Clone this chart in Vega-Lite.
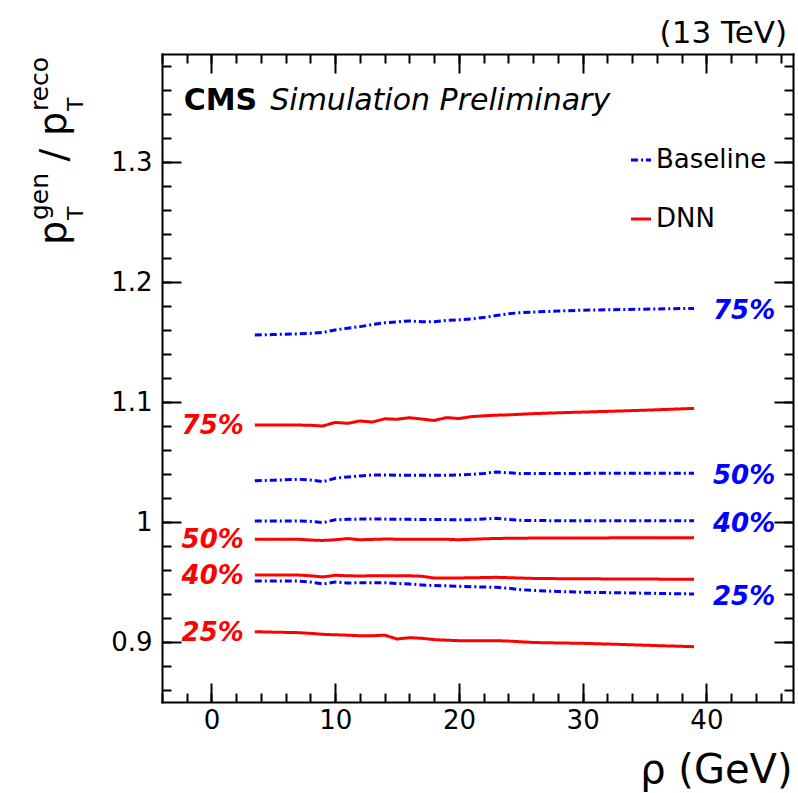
{
  "$schema": "https://vega.github.io/schema/vega-lite/v6.json",
  "width": 631,
  "height": 648,
  "autosize": {"type": "none"},
  "padding": {"left": 162, "top": 54, "right": 5, "bottom": 91},
  "background": "white",
  "config": {
    "view": {"stroke": null},
    "font": "DejaVu Sans",
    "axis": {
      "grid": false,
      "domainColor": "#000000",
      "domainWidth": 2,
      "domainCap": "square",
      "tickColor": "#000000",
      "tickWidth": 2,
      "labelFont": "DejaVu Sans",
      "labelFontSize": 26,
      "labelColor": "#000000",
      "labelFlush": false,
      "titleFont": "DejaVu Sans",
      "titleColor": "#000000",
      "titleFontWeight": "normal"
    }
  },
  "datasets": {
    "curves": [
      {"method": "Baseline", "q": "75%", "rho": 3.5, "ratio": 1.1558},
      {"method": "Baseline", "q": "75%", "rho": 5, "ratio": 1.1562},
      {"method": "Baseline", "q": "75%", "rho": 7, "ratio": 1.1568},
      {"method": "Baseline", "q": "75%", "rho": 8, "ratio": 1.1572},
      {"method": "Baseline", "q": "75%", "rho": 9, "ratio": 1.158},
      {"method": "Baseline", "q": "75%", "rho": 10, "ratio": 1.16},
      {"method": "Baseline", "q": "75%", "rho": 11, "ratio": 1.1615},
      {"method": "Baseline", "q": "75%", "rho": 12, "ratio": 1.1628},
      {"method": "Baseline", "q": "75%", "rho": 13, "ratio": 1.1645},
      {"method": "Baseline", "q": "75%", "rho": 14, "ratio": 1.166},
      {"method": "Baseline", "q": "75%", "rho": 15, "ratio": 1.1668},
      {"method": "Baseline", "q": "75%", "rho": 16, "ratio": 1.1676},
      {"method": "Baseline", "q": "75%", "rho": 17, "ratio": 1.1668},
      {"method": "Baseline", "q": "75%", "rho": 18, "ratio": 1.1668},
      {"method": "Baseline", "q": "75%", "rho": 19, "ratio": 1.168},
      {"method": "Baseline", "q": "75%", "rho": 20, "ratio": 1.1685},
      {"method": "Baseline", "q": "75%", "rho": 21, "ratio": 1.1692},
      {"method": "Baseline", "q": "75%", "rho": 22, "ratio": 1.1705},
      {"method": "Baseline", "q": "75%", "rho": 23, "ratio": 1.172},
      {"method": "Baseline", "q": "75%", "rho": 24, "ratio": 1.1735},
      {"method": "Baseline", "q": "75%", "rho": 25, "ratio": 1.1745},
      {"method": "Baseline", "q": "75%", "rho": 26, "ratio": 1.175},
      {"method": "Baseline", "q": "75%", "rho": 28, "ratio": 1.1758},
      {"method": "Baseline", "q": "75%", "rho": 30, "ratio": 1.1765},
      {"method": "Baseline", "q": "75%", "rho": 33, "ratio": 1.177},
      {"method": "Baseline", "q": "75%", "rho": 36, "ratio": 1.1775},
      {"method": "Baseline", "q": "75%", "rho": 39, "ratio": 1.178},

      {"method": "DNN", "q": "75%", "rho": 3.5, "ratio": 1.0808},
      {"method": "DNN", "q": "75%", "rho": 5, "ratio": 1.0808},
      {"method": "DNN", "q": "75%", "rho": 7, "ratio": 1.0808},
      {"method": "DNN", "q": "75%", "rho": 8, "ratio": 1.0806},
      {"method": "DNN", "q": "75%", "rho": 9, "ratio": 1.08},
      {"method": "DNN", "q": "75%", "rho": 10, "ratio": 1.083},
      {"method": "DNN", "q": "75%", "rho": 11, "ratio": 1.0822},
      {"method": "DNN", "q": "75%", "rho": 12, "ratio": 1.0842},
      {"method": "DNN", "q": "75%", "rho": 13, "ratio": 1.0833},
      {"method": "DNN", "q": "75%", "rho": 14, "ratio": 1.086},
      {"method": "DNN", "q": "75%", "rho": 15, "ratio": 1.0856},
      {"method": "DNN", "q": "75%", "rho": 16, "ratio": 1.0869},
      {"method": "DNN", "q": "75%", "rho": 17, "ratio": 1.0858},
      {"method": "DNN", "q": "75%", "rho": 18, "ratio": 1.0846},
      {"method": "DNN", "q": "75%", "rho": 19, "ratio": 1.087},
      {"method": "DNN", "q": "75%", "rho": 20, "ratio": 1.0862},
      {"method": "DNN", "q": "75%", "rho": 21, "ratio": 1.0878},
      {"method": "DNN", "q": "75%", "rho": 22, "ratio": 1.0885},
      {"method": "DNN", "q": "75%", "rho": 23, "ratio": 1.089},
      {"method": "DNN", "q": "75%", "rho": 24, "ratio": 1.0893},
      {"method": "DNN", "q": "75%", "rho": 25, "ratio": 1.0898},
      {"method": "DNN", "q": "75%", "rho": 26, "ratio": 1.0903},
      {"method": "DNN", "q": "75%", "rho": 28, "ratio": 1.091},
      {"method": "DNN", "q": "75%", "rho": 30, "ratio": 1.0916},
      {"method": "DNN", "q": "75%", "rho": 33, "ratio": 1.0925},
      {"method": "DNN", "q": "75%", "rho": 36, "ratio": 1.0935},
      {"method": "DNN", "q": "75%", "rho": 39, "ratio": 1.0947},

      {"method": "Baseline", "q": "50%", "rho": 3.5, "ratio": 1.0344},
      {"method": "Baseline", "q": "50%", "rho": 5, "ratio": 1.0348},
      {"method": "Baseline", "q": "50%", "rho": 7, "ratio": 1.0356},
      {"method": "Baseline", "q": "50%", "rho": 8, "ratio": 1.035},
      {"method": "Baseline", "q": "50%", "rho": 9, "ratio": 1.0336},
      {"method": "Baseline", "q": "50%", "rho": 10, "ratio": 1.0365},
      {"method": "Baseline", "q": "50%", "rho": 11, "ratio": 1.0375},
      {"method": "Baseline", "q": "50%", "rho": 12, "ratio": 1.0383},
      {"method": "Baseline", "q": "50%", "rho": 13, "ratio": 1.0392},
      {"method": "Baseline", "q": "50%", "rho": 14, "ratio": 1.0392},
      {"method": "Baseline", "q": "50%", "rho": 15, "ratio": 1.039},
      {"method": "Baseline", "q": "50%", "rho": 16, "ratio": 1.0389},
      {"method": "Baseline", "q": "50%", "rho": 17, "ratio": 1.039},
      {"method": "Baseline", "q": "50%", "rho": 18, "ratio": 1.0389},
      {"method": "Baseline", "q": "50%", "rho": 19, "ratio": 1.0389},
      {"method": "Baseline", "q": "50%", "rho": 20, "ratio": 1.0392},
      {"method": "Baseline", "q": "50%", "rho": 21, "ratio": 1.0397},
      {"method": "Baseline", "q": "50%", "rho": 22, "ratio": 1.0405},
      {"method": "Baseline", "q": "50%", "rho": 23, "ratio": 1.0417},
      {"method": "Baseline", "q": "50%", "rho": 24, "ratio": 1.041},
      {"method": "Baseline", "q": "50%", "rho": 25, "ratio": 1.0403},
      {"method": "Baseline", "q": "50%", "rho": 26, "ratio": 1.0404},
      {"method": "Baseline", "q": "50%", "rho": 28, "ratio": 1.0405},
      {"method": "Baseline", "q": "50%", "rho": 30, "ratio": 1.0405},
      {"method": "Baseline", "q": "50%", "rho": 33, "ratio": 1.0406},
      {"method": "Baseline", "q": "50%", "rho": 36, "ratio": 1.0406},
      {"method": "Baseline", "q": "50%", "rho": 39, "ratio": 1.0406},

      {"method": "Baseline", "q": "40%", "rho": 3.5, "ratio": 1.0008},
      {"method": "Baseline", "q": "40%", "rho": 5, "ratio": 1.0008},
      {"method": "Baseline", "q": "40%", "rho": 7, "ratio": 1.0008},
      {"method": "Baseline", "q": "40%", "rho": 8, "ratio": 1.0005},
      {"method": "Baseline", "q": "40%", "rho": 9, "ratio": 0.9994},
      {"method": "Baseline", "q": "40%", "rho": 10, "ratio": 1.0018},
      {"method": "Baseline", "q": "40%", "rho": 11, "ratio": 1.0022},
      {"method": "Baseline", "q": "40%", "rho": 12, "ratio": 1.0024},
      {"method": "Baseline", "q": "40%", "rho": 13, "ratio": 1.0025},
      {"method": "Baseline", "q": "40%", "rho": 14, "ratio": 1.0024},
      {"method": "Baseline", "q": "40%", "rho": 15, "ratio": 1.0023},
      {"method": "Baseline", "q": "40%", "rho": 16, "ratio": 1.0022},
      {"method": "Baseline", "q": "40%", "rho": 17, "ratio": 1.0021},
      {"method": "Baseline", "q": "40%", "rho": 18, "ratio": 1.002},
      {"method": "Baseline", "q": "40%", "rho": 19, "ratio": 1.002},
      {"method": "Baseline", "q": "40%", "rho": 20, "ratio": 1.0019},
      {"method": "Baseline", "q": "40%", "rho": 21, "ratio": 1.0019},
      {"method": "Baseline", "q": "40%", "rho": 22, "ratio": 1.0025},
      {"method": "Baseline", "q": "40%", "rho": 23, "ratio": 1.0031},
      {"method": "Baseline", "q": "40%", "rho": 24, "ratio": 1.0022},
      {"method": "Baseline", "q": "40%", "rho": 25, "ratio": 1.0014},
      {"method": "Baseline", "q": "40%", "rho": 26, "ratio": 1.0012},
      {"method": "Baseline", "q": "40%", "rho": 28, "ratio": 1.0011},
      {"method": "Baseline", "q": "40%", "rho": 30, "ratio": 1.0011},
      {"method": "Baseline", "q": "40%", "rho": 33, "ratio": 1.0011},
      {"method": "Baseline", "q": "40%", "rho": 36, "ratio": 1.0011},
      {"method": "Baseline", "q": "40%", "rho": 39, "ratio": 1.0011},

      {"method": "DNN", "q": "50%", "rho": 3.5, "ratio": 0.9856},
      {"method": "DNN", "q": "50%", "rho": 5, "ratio": 0.9856},
      {"method": "DNN", "q": "50%", "rho": 7, "ratio": 0.9856},
      {"method": "DNN", "q": "50%", "rho": 8, "ratio": 0.985},
      {"method": "DNN", "q": "50%", "rho": 9, "ratio": 0.9846},
      {"method": "DNN", "q": "50%", "rho": 10, "ratio": 0.9852},
      {"method": "DNN", "q": "50%", "rho": 11, "ratio": 0.9862},
      {"method": "DNN", "q": "50%", "rho": 12, "ratio": 0.9852},
      {"method": "DNN", "q": "50%", "rho": 13, "ratio": 0.9855},
      {"method": "DNN", "q": "50%", "rho": 14, "ratio": 0.9858},
      {"method": "DNN", "q": "50%", "rho": 15, "ratio": 0.9857},
      {"method": "DNN", "q": "50%", "rho": 16, "ratio": 0.9857},
      {"method": "DNN", "q": "50%", "rho": 17, "ratio": 0.9857},
      {"method": "DNN", "q": "50%", "rho": 18, "ratio": 0.9856},
      {"method": "DNN", "q": "50%", "rho": 19, "ratio": 0.9856},
      {"method": "DNN", "q": "50%", "rho": 20, "ratio": 0.9852},
      {"method": "DNN", "q": "50%", "rho": 21, "ratio": 0.9856},
      {"method": "DNN", "q": "50%", "rho": 22, "ratio": 0.986},
      {"method": "DNN", "q": "50%", "rho": 23, "ratio": 0.9863},
      {"method": "DNN", "q": "50%", "rho": 24, "ratio": 0.9864},
      {"method": "DNN", "q": "50%", "rho": 25, "ratio": 0.9865},
      {"method": "DNN", "q": "50%", "rho": 26, "ratio": 0.9866},
      {"method": "DNN", "q": "50%", "rho": 28, "ratio": 0.9867},
      {"method": "DNN", "q": "50%", "rho": 30, "ratio": 0.9867},
      {"method": "DNN", "q": "50%", "rho": 33, "ratio": 0.9868},
      {"method": "DNN", "q": "50%", "rho": 36, "ratio": 0.9868},
      {"method": "DNN", "q": "50%", "rho": 39, "ratio": 0.9869},

      {"method": "DNN", "q": "40%", "rho": 3.5, "ratio": 0.9558},
      {"method": "DNN", "q": "40%", "rho": 5, "ratio": 0.9558},
      {"method": "DNN", "q": "40%", "rho": 7, "ratio": 0.9558},
      {"method": "DNN", "q": "40%", "rho": 8, "ratio": 0.9552},
      {"method": "DNN", "q": "40%", "rho": 9, "ratio": 0.9542},
      {"method": "DNN", "q": "40%", "rho": 10, "ratio": 0.9556},
      {"method": "DNN", "q": "40%", "rho": 11, "ratio": 0.9552},
      {"method": "DNN", "q": "40%", "rho": 12, "ratio": 0.955},
      {"method": "DNN", "q": "40%", "rho": 13, "ratio": 0.9552},
      {"method": "DNN", "q": "40%", "rho": 14, "ratio": 0.9552},
      {"method": "DNN", "q": "40%", "rho": 15, "ratio": 0.9551},
      {"method": "DNN", "q": "40%", "rho": 16, "ratio": 0.9552},
      {"method": "DNN", "q": "40%", "rho": 17, "ratio": 0.9548},
      {"method": "DNN", "q": "40%", "rho": 18, "ratio": 0.9533},
      {"method": "DNN", "q": "40%", "rho": 19, "ratio": 0.9533},
      {"method": "DNN", "q": "40%", "rho": 20, "ratio": 0.9534},
      {"method": "DNN", "q": "40%", "rho": 21, "ratio": 0.9535},
      {"method": "DNN", "q": "40%", "rho": 22, "ratio": 0.9537},
      {"method": "DNN", "q": "40%", "rho": 23, "ratio": 0.9539},
      {"method": "DNN", "q": "40%", "rho": 24, "ratio": 0.9536},
      {"method": "DNN", "q": "40%", "rho": 25, "ratio": 0.9533},
      {"method": "DNN", "q": "40%", "rho": 26, "ratio": 0.953},
      {"method": "DNN", "q": "40%", "rho": 28, "ratio": 0.9528},
      {"method": "DNN", "q": "40%", "rho": 30, "ratio": 0.9527},
      {"method": "DNN", "q": "40%", "rho": 33, "ratio": 0.9525},
      {"method": "DNN", "q": "40%", "rho": 36, "ratio": 0.9524},
      {"method": "DNN", "q": "40%", "rho": 39, "ratio": 0.9523},

      {"method": "Baseline", "q": "25%", "rho": 3.5, "ratio": 0.9508},
      {"method": "Baseline", "q": "25%", "rho": 5, "ratio": 0.9508},
      {"method": "Baseline", "q": "25%", "rho": 7, "ratio": 0.9508},
      {"method": "Baseline", "q": "25%", "rho": 8, "ratio": 0.95},
      {"method": "Baseline", "q": "25%", "rho": 9, "ratio": 0.9483},
      {"method": "Baseline", "q": "25%", "rho": 10, "ratio": 0.95},
      {"method": "Baseline", "q": "25%", "rho": 11, "ratio": 0.9492},
      {"method": "Baseline", "q": "25%", "rho": 12, "ratio": 0.9494},
      {"method": "Baseline", "q": "25%", "rho": 13, "ratio": 0.9493},
      {"method": "Baseline", "q": "25%", "rho": 14, "ratio": 0.9494},
      {"method": "Baseline", "q": "25%", "rho": 15, "ratio": 0.9488},
      {"method": "Baseline", "q": "25%", "rho": 16, "ratio": 0.9483},
      {"method": "Baseline", "q": "25%", "rho": 17, "ratio": 0.9476},
      {"method": "Baseline", "q": "25%", "rho": 18, "ratio": 0.947},
      {"method": "Baseline", "q": "25%", "rho": 19, "ratio": 0.9468},
      {"method": "Baseline", "q": "25%", "rho": 20, "ratio": 0.9464},
      {"method": "Baseline", "q": "25%", "rho": 21, "ratio": 0.9461},
      {"method": "Baseline", "q": "25%", "rho": 22, "ratio": 0.9458},
      {"method": "Baseline", "q": "25%", "rho": 23, "ratio": 0.9456},
      {"method": "Baseline", "q": "25%", "rho": 24, "ratio": 0.9448},
      {"method": "Baseline", "q": "25%", "rho": 25, "ratio": 0.9436},
      {"method": "Baseline", "q": "25%", "rho": 26, "ratio": 0.943},
      {"method": "Baseline", "q": "25%", "rho": 28, "ratio": 0.9421},
      {"method": "Baseline", "q": "25%", "rho": 30, "ratio": 0.9415},
      {"method": "Baseline", "q": "25%", "rho": 33, "ratio": 0.941},
      {"method": "Baseline", "q": "25%", "rho": 36, "ratio": 0.9405},
      {"method": "Baseline", "q": "25%", "rho": 39, "ratio": 0.94},

      {"method": "DNN", "q": "25%", "rho": 3.5, "ratio": 0.9086},
      {"method": "DNN", "q": "25%", "rho": 5, "ratio": 0.9082},
      {"method": "DNN", "q": "25%", "rho": 7, "ratio": 0.9078},
      {"method": "DNN", "q": "25%", "rho": 8, "ratio": 0.9072},
      {"method": "DNN", "q": "25%", "rho": 9, "ratio": 0.9064},
      {"method": "DNN", "q": "25%", "rho": 10, "ratio": 0.906},
      {"method": "DNN", "q": "25%", "rho": 11, "ratio": 0.9057},
      {"method": "DNN", "q": "25%", "rho": 12, "ratio": 0.9052},
      {"method": "DNN", "q": "25%", "rho": 13, "ratio": 0.9052},
      {"method": "DNN", "q": "25%", "rho": 14, "ratio": 0.9057},
      {"method": "DNN", "q": "25%", "rho": 15, "ratio": 0.9025},
      {"method": "DNN", "q": "25%", "rho": 16, "ratio": 0.9036},
      {"method": "DNN", "q": "25%", "rho": 17, "ratio": 0.9031},
      {"method": "DNN", "q": "25%", "rho": 18, "ratio": 0.902},
      {"method": "DNN", "q": "25%", "rho": 19, "ratio": 0.9015},
      {"method": "DNN", "q": "25%", "rho": 20, "ratio": 0.9011},
      {"method": "DNN", "q": "25%", "rho": 21, "ratio": 0.9011},
      {"method": "DNN", "q": "25%", "rho": 22, "ratio": 0.9011},
      {"method": "DNN", "q": "25%", "rho": 23, "ratio": 0.9011},
      {"method": "DNN", "q": "25%", "rho": 24, "ratio": 0.9008},
      {"method": "DNN", "q": "25%", "rho": 25, "ratio": 0.9002},
      {"method": "DNN", "q": "25%", "rho": 26, "ratio": 0.8996},
      {"method": "DNN", "q": "25%", "rho": 28, "ratio": 0.8992},
      {"method": "DNN", "q": "25%", "rho": 30, "ratio": 0.8989},
      {"method": "DNN", "q": "25%", "rho": 33, "ratio": 0.898},
      {"method": "DNN", "q": "25%", "rho": 36, "ratio": 0.897},
      {"method": "DNN", "q": "25%", "rho": 39, "ratio": 0.8961}
    ]
  },
  "layer": [
    {
      "data": {"name": "curves"},
      "mark": {"type": "line", "strokeWidth": 3, "interpolate": "linear"},
      "encoding": {
        "x": {
          "field": "rho", "type": "quantitative",
          "scale": {"domain": [-4, 47], "nice": false, "zero": false},
          "axis": {
            "orient": "bottom", "values": [0, 10, 20, 30, 40], "format": "d",
            "tickSize": -19, "labelPadding": 24,
            "title": "ρ (GeV)", "titleFontSize": 40, "titleAlign": "right",
            "titleBaseline": "alphabetic", "titleX": 630, "titleY": 80
          }
        },
        "y": {
          "field": "ratio", "type": "quantitative",
          "scale": {"domain": [0.85, 1.39], "nice": false, "zero": false},
          "axis": {
            "orient": "left", "values": [0.9, 1, 1.1, 1.2, 1.3], "format": "~g",
            "tickSize": -19, "labelPadding": 29, "title": null
          }
        },
        "color": {
          "field": "method", "type": "nominal",
          "scale": {"domain": ["Baseline", "DNN"], "range": ["#0000ff", "#ff0000"]},
          "legend": {
            "title": null, "orient": "none", "legendX": 466, "legendY": 93,
            "symbolType": "stroke", "symbolSize": 400, "symbolStrokeWidth": 3,
            "labelFont": "DejaVu Sans", "labelFontSize": 26, "labelColor": "#000000",
            "rowPadding": 33, "padding": 0, "labelOffset": 2, "symbolOffset": 0
          }
        },
        "strokeDash": {
          "field": "method", "type": "nominal",
          "scale": {"domain": ["Baseline", "DNN"], "range": [[7, 3, 2, 3], [1, 0]]},
          "legend": {
            "title": null, "orient": "none", "legendX": 466, "legendY": 93,
            "symbolType": "stroke", "symbolSize": 400, "symbolStrokeWidth": 3,
            "labelFont": "DejaVu Sans", "labelFontSize": 26, "labelColor": "#000000",
            "rowPadding": 33, "padding": 0, "labelOffset": 2, "symbolOffset": 0
          }
        },
        "detail": {"field": "q", "type": "nominal"}
      }
    },
    {
      "data": {"name": "curves"},
      "transform": [{"filter": "datum.method === 'DNN' && datum.rho === 3.5"}],
      "mark": {
        "type": "text", "align": "right", "baseline": "middle", "dx": -11, "dy": 1,
        "font": "DejaVu Sans", "fontSize": 26, "fontStyle": "italic", "fontWeight": "bold",
        "color": "#ff0000"
      },
      "encoding": {
        "x": {
          "field": "rho", "type": "quantitative",
          "scale": {"domain": [-4, 47], "nice": false, "zero": false},
          "axis": {
            "orient": "bottom", "values": [-4, -2, 0, 2, 4, 6, 8, 10, 12, 14, 16, 18, 20, 22, 24, 26, 28, 30, 32, 34, 36, 38, 40, 42, 44, 46],
            "tickSize": -9, "labels": false, "domain": false, "title": null
          }
        },
        "y": {
          "field": "ratio", "type": "quantitative",
          "scale": {"domain": [0.85, 1.39], "nice": false, "zero": false},
          "axis": {
            "orient": "left", "values": [0.86, 0.88, 0.9, 0.92, 0.94, 0.96, 0.98, 1, 1.02, 1.04, 1.06, 1.08, 1.1, 1.12, 1.14, 1.16, 1.18, 1.2, 1.22, 1.24, 1.26, 1.28, 1.3, 1.32, 1.34, 1.36, 1.38],
            "tickSize": -9, "labels": false, "domain": false, "title": null
          }
        },
        "text": {"field": "q", "type": "nominal"}
      }
    },
    {
      "data": {"name": "curves"},
      "transform": [{"filter": "datum.method === 'Baseline' && datum.rho === 39"}],
      "mark": {
        "type": "text", "align": "left", "baseline": "middle", "dx": 19, "dy": 3,
        "font": "DejaVu Sans", "fontSize": 26, "fontStyle": "italic", "fontWeight": "bold",
        "color": "#0000ff"
      },
      "encoding": {
        "x": {
          "field": "rho", "type": "quantitative",
          "scale": {"domain": [-4, 47], "nice": false, "zero": false},
          "axis": {
            "orient": "top", "values": [0, 10, 20, 30, 40],
            "tickSize": -19, "labels": false, "title": null
          }
        },
        "y": {
          "field": "ratio", "type": "quantitative",
          "scale": {"domain": [0.85, 1.39], "nice": false, "zero": false},
          "axis": {
            "orient": "right", "values": [0.9, 1, 1.1, 1.2, 1.3],
            "tickSize": -19, "labels": false, "title": null
          }
        },
        "text": {"field": "q", "type": "nominal"}
      }
    },
    {
      "data": {"values": [{}]},
      "mark": {
        "type": "text", "text": "CMS", "align": "left", "baseline": "alphabetic",
        "font": "DejaVu Sans", "fontSize": 30, "fontWeight": "bold", "color": "#000000"
      },
      "encoding": {
        "x": {
          "datum": -2.25, "type": "quantitative",
          "scale": {"domain": [-4, 47], "nice": false, "zero": false},
          "axis": {
            "orient": "top", "values": [-4, -2, 0, 2, 4, 6, 8, 10, 12, 14, 16, 18, 20, 22, 24, 26, 28, 30, 32, 34, 36, 38, 40, 42, 44, 46],
            "tickSize": -9, "labels": false, "domain": false, "title": null
          }
        },
        "y": {
          "datum": 1.3433, "type": "quantitative",
          "scale": {"domain": [0.85, 1.39], "nice": false, "zero": false},
          "axis": {
            "orient": "right", "values": [0.86, 0.88, 0.9, 0.92, 0.94, 0.96, 0.98, 1, 1.02, 1.04, 1.06, 1.08, 1.1, 1.12, 1.14, 1.16, 1.18, 1.2, 1.22, 1.24, 1.26, 1.28, 1.3, 1.32, 1.34, 1.36, 1.38],
            "tickSize": -9, "labels": false, "domain": false, "title": null
          }
        }
      }
    },
    {
      "data": {"values": [{}]},
      "mark": {
        "type": "text", "text": "Simulation Preliminary", "align": "left", "baseline": "alphabetic",
        "font": "DejaVu Sans", "fontSize": 30, "fontStyle": "italic", "color": "#000000"
      },
      "encoding": {
        "x": {"datum": 4.75, "type": "quantitative", "scale": {"domain": [-4, 47], "nice": false, "zero": false}, "axis": null},
        "y": {"datum": 1.3433, "type": "quantitative", "scale": {"domain": [0.85, 1.39], "nice": false, "zero": false}, "axis": null}
      }
    },
    {
      "data": {"values": [{}]},
      "mark": {
        "type": "text", "text": "(13 TeV)", "align": "right", "baseline": "alphabetic",
        "font": "DejaVu Sans", "fontSize": 31, "color": "#000000", "dx": -6, "dy": -11
      },
      "encoding": {
        "x": {"datum": 47, "type": "quantitative", "scale": {"domain": [-4, 47], "nice": false, "zero": false}, "axis": null},
        "y": {"datum": 1.39, "type": "quantitative", "scale": {"domain": [0.85, 1.39], "nice": false, "zero": false}, "axis": null}
      }
    },
    {
      "data": {"values": [{}]},
      "mark": {"type": "text", "text": "p", "angle": 270, "align": "left", "baseline": "alphabetic", "font": "DejaVu Sans", "fontSize": 38, "color": "#000000", "dx": -191, "dy": -96},
      "encoding": {
        "x": {"datum": -4, "type": "quantitative", "scale": {"domain": [-4, 47], "nice": false, "zero": false}, "axis": null},
        "y": {"datum": 1.39, "type": "quantitative", "scale": {"domain": [0.85, 1.39], "nice": false, "zero": false}, "axis": null}
      }
    },
    {
      "data": {"values": [{}]},
      "mark": {"type": "text", "text": "T", "angle": 270, "align": "left", "baseline": "alphabetic", "font": "DejaVu Sans", "fontSize": 22, "color": "#000000", "dx": -166, "dy": -79},
      "encoding": {
        "x": {"datum": -4, "type": "quantitative", "scale": {"domain": [-4, 47], "nice": false, "zero": false}, "axis": null},
        "y": {"datum": 1.39, "type": "quantitative", "scale": {"domain": [0.85, 1.39], "nice": false, "zero": false}, "axis": null}
      }
    },
    {
      "data": {"values": [{}]},
      "mark": {"type": "text", "text": "gen", "angle": 270, "align": "left", "baseline": "alphabetic", "font": "DejaVu Sans", "fontSize": 25, "color": "#000000", "dx": -166, "dy": -114},
      "encoding": {
        "x": {"datum": -4, "type": "quantitative", "scale": {"domain": [-4, 47], "nice": false, "zero": false}, "axis": null},
        "y": {"datum": 1.39, "type": "quantitative", "scale": {"domain": [0.85, 1.39], "nice": false, "zero": false}, "axis": null}
      }
    },
    {
      "data": {"values": [{}]},
      "mark": {"type": "text", "text": "/", "angle": 270, "align": "center", "baseline": "alphabetic", "font": "DejaVu Sans", "fontSize": 38, "color": "#000000", "dx": -101, "dy": -96},
      "encoding": {
        "x": {"datum": -4, "type": "quantitative", "scale": {"domain": [-4, 47], "nice": false, "zero": false}, "axis": null},
        "y": {"datum": 1.39, "type": "quantitative", "scale": {"domain": [0.85, 1.39], "nice": false, "zero": false}, "axis": null}
      }
    },
    {
      "data": {"values": [{}]},
      "mark": {"type": "text", "text": "p", "angle": 270, "align": "left", "baseline": "alphabetic", "font": "DejaVu Sans", "fontSize": 38, "color": "#000000", "dx": -82, "dy": -96},
      "encoding": {
        "x": {"datum": -4, "type": "quantitative", "scale": {"domain": [-4, 47], "nice": false, "zero": false}, "axis": null},
        "y": {"datum": 1.39, "type": "quantitative", "scale": {"domain": [0.85, 1.39], "nice": false, "zero": false}, "axis": null}
      }
    },
    {
      "data": {"values": [{}]},
      "mark": {"type": "text", "text": "T", "angle": 270, "align": "left", "baseline": "alphabetic", "font": "DejaVu Sans", "fontSize": 22, "color": "#000000", "dx": -57, "dy": -79},
      "encoding": {
        "x": {"datum": -4, "type": "quantitative", "scale": {"domain": [-4, 47], "nice": false, "zero": false}, "axis": null},
        "y": {"datum": 1.39, "type": "quantitative", "scale": {"domain": [0.85, 1.39], "nice": false, "zero": false}, "axis": null}
      }
    },
    {
      "data": {"values": [{}]},
      "mark": {"type": "text", "text": "reco", "angle": 270, "align": "left", "baseline": "alphabetic", "font": "DejaVu Sans", "fontSize": 25, "color": "#000000", "dx": -57, "dy": -114},
      "encoding": {
        "x": {"datum": -4, "type": "quantitative", "scale": {"domain": [-4, 47], "nice": false, "zero": false}, "axis": null},
        "y": {"datum": 1.39, "type": "quantitative", "scale": {"domain": [0.85, 1.39], "nice": false, "zero": false}, "axis": null}
      }
    }
  ],
  "resolve": {"axis": {"x": "independent", "y": "independent"}}
}
